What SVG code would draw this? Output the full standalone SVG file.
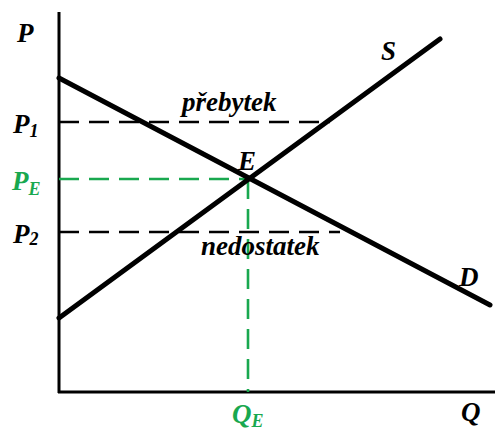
<svg xmlns="http://www.w3.org/2000/svg" width="498" height="433" viewBox="0 0 498 433">
<rect width="498" height="433" fill="#fff"/>
<g id="axes" stroke="#000" stroke-width="3" fill="none">
<line x1="59" y1="12" x2="59" y2="393"/>
<line x1="58" y1="392" x2="495" y2="392"/>
</g>
<g id="connectors" stroke-width="2.6" stroke-dasharray="20 10" fill="none">
<line stroke="#000" x1="59" y1="122" x2="330" y2="122"/>
<line stroke="#000" x1="59" y1="232" x2="340" y2="232"/>
<line stroke="#19a84f" x1="59" y1="179" x2="248" y2="179"/>
<line stroke="#19a84f" x1="248" y1="179" x2="248" y2="392"/>
</g>
<g id="demand">
<line stroke="#000" stroke-width="5" stroke-linecap="round" x1="59" y1="78" x2="490" y2="305"/>
<text x="459" y="286" font-family="Liberation Serif" font-size="27" font-weight="bold" font-style="italic">D</text>
</g>
<g id="supply">
<line stroke="#000" stroke-width="5" stroke-linecap="round" x1="59" y1="318" x2="440" y2="39"/>
<text x="381" y="60" font-family="Liberation Serif" font-size="27" font-weight="bold" font-style="italic">S</text>
</g>
<g id="labels">
<text x="17" y="42" font-family="Liberation Serif" font-size="27" font-weight="bold" font-style="italic">P</text>
<text x="13" y="133" font-family="Liberation Serif" font-size="27" font-weight="bold" font-style="italic">P<tspan font-size="18" dy="4">1</tspan></text>
<text x="12" y="190" fill="#19a84f" font-family="Liberation Serif" font-size="27" font-weight="bold" font-style="italic">P<tspan font-size="18" dy="5">E</tspan></text>
<text x="13" y="243" font-family="Liberation Serif" font-size="27" font-weight="bold" font-style="italic">P<tspan font-size="18" dy="2">2</tspan></text>
<text x="182" y="111" font-family="Liberation Serif" font-size="27" font-weight="bold" font-style="italic">přebytek</text>
<text x="238" y="170" font-family="Liberation Serif" font-size="27" font-weight="bold" font-style="italic">E</text>
<text x="201" y="255" font-family="Liberation Serif" font-size="27" font-weight="bold" font-style="italic">nedostatek</text>
<text x="232" y="423" fill="#19a84f" font-family="Liberation Serif" font-size="27" font-weight="bold" font-style="italic">Q<tspan font-size="18" dy="4">E</tspan></text>
<text x="461" y="421" font-family="Liberation Serif" font-size="27" font-weight="bold" font-style="italic">Q</text>
</g>
</svg>
